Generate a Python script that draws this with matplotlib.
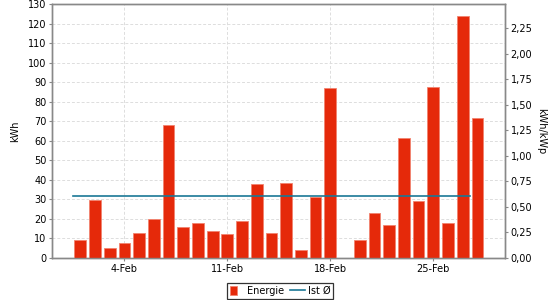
import numpy as np
import matplotlib
matplotlib.use('Agg')
import matplotlib.pyplot as plt
import matplotlib.dates as mdates
from datetime import datetime, timedelta

# Tageswerte Februar (kWh)
tage = [datetime(2023, 2, d) for d in range(1, 29)]
energie = [9, 29.5, 5.2, 7.5, 13, 20.2, 68, 16, 18, 14, 12.2, 19, 38, 13,
           38.2, 4.2, 31, 86.8, 0, 9, 23, 16.8, 61.5, 29, 87.5, 18, 124, 71.5]

# Ist-Durchschnitt (kWh/kWp)
ist_wert = 0.605
ist_von = datetime(2023, 1, 31, 12)
ist_bis = datetime(2023, 2, 27, 12)

rot = '#E5290A'
blau = '#1A7896'
grau = '#888888'

plt.rcParams['font.family'] = 'DejaVu Sans'
plt.rcParams['font.size'] = 7

fig = plt.figure(figsize=(5.6, 3.0), dpi=100)
ax = fig.add_axes([0.0929, 0.14, 0.809, 0.8463])
ax2 = ax.twinx()

ax.bar(tage, energie, width=0.8, color=rot, edgecolor='#F2836F', linewidth=0.6,
       zorder=3, label='Energie')
ax2.plot([ist_von, ist_bis], [ist_wert, ist_wert], color=blau, linewidth=1.2,
         label='Ist Ø')

ax.set_xlim(datetime(2023, 1, 31) - timedelta(days=0.92),
            datetime(2023, 2, 1) + timedelta(days=28.88))
ax.set_ylim(0, 130)
ax.set_yticks(np.arange(0, 131, 10))
ax2.set_ylim(0, 2.486)
ax2.set_yticks(np.arange(0, 2.26, 0.25))
ax2.yaxis.set_major_formatter(plt.FuncFormatter(lambda v, p: f'{v:.2f}'.replace('.', ',')))

ax.xaxis.set_major_locator(mdates.DayLocator(bymonthday=[4, 11, 18, 25]))
ax.xaxis.set_major_formatter(plt.FuncFormatter(
    lambda v, p: f'{mdates.num2date(v).day}-{mdates.num2date(v).strftime("%b")}'))

ax.grid(True, color='#DDDDDD', linestyle=(0, (3, 2)), linewidth=0.7, zorder=0)
ax.set_axisbelow(True)

for a in (ax, ax2):
    for s in a.spines.values():
        s.set_color(grau)
        s.set_linewidth(1.0)
    a.tick_params(colors=grau, labelcolor='black', length=2, width=0.8, labelsize=7, pad=2)

ax.set_ylabel('kWh', fontsize=7, labelpad=6)
ax2.set_ylabel('kWh/kWp', fontsize=7, rotation=270, labelpad=10)

h1, l1 = ax.get_legend_handles_labels()
h2, l2 = ax2.get_legend_handles_labels()
leg = fig.legend(h1 + h2, l1 + l2, loc='lower center', bbox_to_anchor=(0.5, 0.0),
                 ncol=2, frameon=True, fancybox=False, fontsize=7,
                 handlelength=1.5, handleheight=1.0, handletextpad=0.3,
                 columnspacing=0.6, borderpad=0.3, borderaxespad=0.1)
leg.get_frame().set_edgecolor('black')
leg.get_frame().set_linewidth(0.9)
leg.legend_handles[0].set_width(5)
leg.legend_handles[0].set_x(0)

fig.savefig('out.png', dpi=100)
